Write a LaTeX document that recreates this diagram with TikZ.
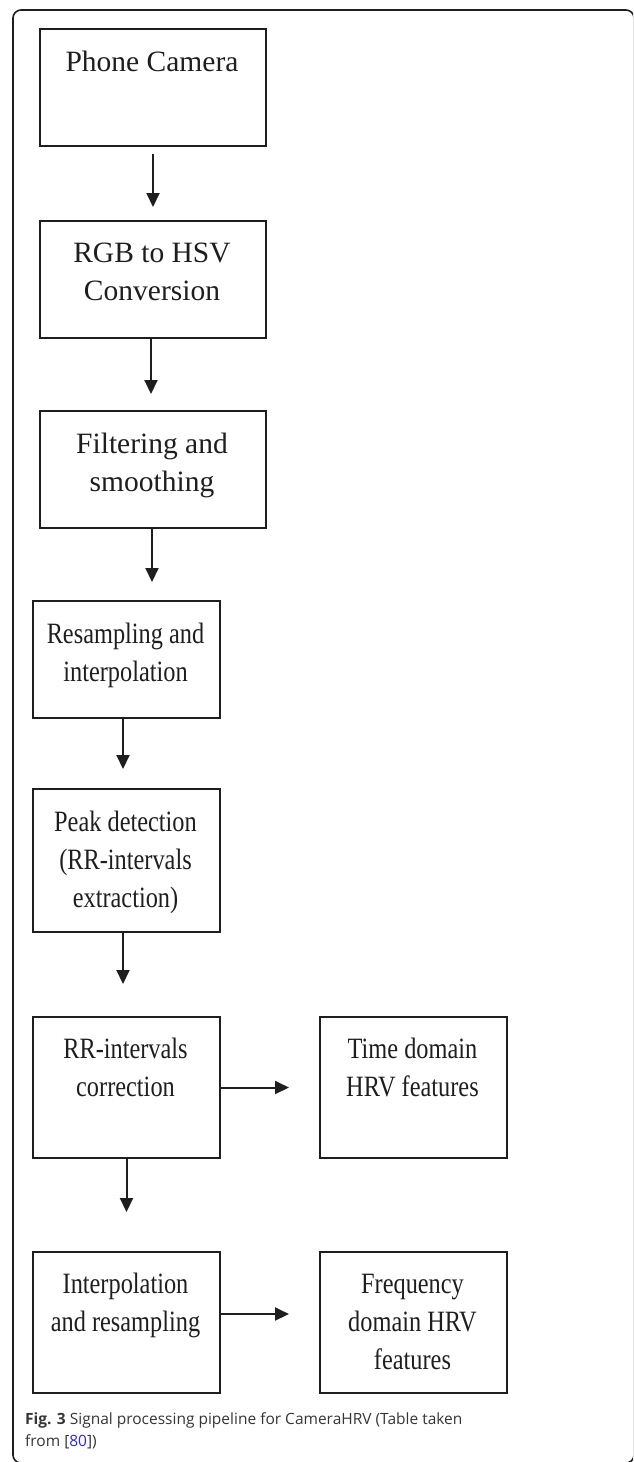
\documentclass[tikz,border=0pt]{standalone}
\usepackage{fontspec}
\setmainfont{Liberation Serif}
\newfontfamily\narrowserif[FakeStretch=0.825]{Liberation Serif}
\newfontfamily\capfont{Open Sans}
\usetikzlibrary{arrows.meta}
\definecolor{lnk}{RGB}{40,40,230}
\definecolor{ink}{RGB}{30,30,30}
\begin{document}
\begin{tikzpicture}[x=1pt,y=-1pt,
  box/.style={draw=ink, line width=2pt, rectangle, inner sep=0pt, anchor=north west},
  txt/.style={font=\fontsize{29.5}{38}\selectfont, align=center, inner sep=0pt, anchor=base, text=ink},
  ntxt/.style={txt, font=\narrowserif\fontsize{29.5}{38}\selectfont},
  arr/.style={line width=2pt, draw=ink, -{Triangle[length=14pt,width=13pt]}}]
\useasboundingbox (0,0) rectangle (633,1462);
\clip (0,0) rectangle (633,1462);
\draw[line width=1.6pt, ink, rounded corners=8pt] (13,10) rectangle (634,1463);
% boxes
\node[box, minimum width=226pt, minimum height=117pt] (b1) at (39,28) {};
\node[box, minimum width=226pt, minimum height=117pt] (b2) at (39,220) {};
\node[box, minimum width=226pt, minimum height=117pt] (b3) at (39,410) {};
\node[box, minimum width=187pt, minimum height=117pt] (b4) at (32,600) {};
\node[box, minimum width=187pt, minimum height=143pt] (b5) at (32,788) {};
\node[box, minimum width=187pt, minimum height=141pt] (b6) at (32,1016) {};
\node[box, minimum width=187pt, minimum height=141pt] (b7) at (319,1016) {};
\node[box, minimum width=187pt, minimum height=141pt] (b8) at (32,1251) {};
\node[box, minimum width=187pt, minimum height=141pt] (b9) at (319,1251) {};
% texts (base anchor = baseline of the last line)
\node[txt] (t1) at (152,71) {Phone Camera};
\node[txt] (t2) at (152,300) {RGB to HSV\\Conversion};
\node[txt] (t3) at (152,491) {Filtering and\\smoothing};
\node[ntxt] (t4) at (125.5,681) {Resampling and\\interpolation};
\node[ntxt] (t5) at (125.5,907) {Peak detection\\(RR-intervals\\extraction)};
\node[ntxt] (t6) at (125.5,1096) {RR-intervals\\correction};
\node[ntxt] (t7) at (412.5,1096) {Time domain\\HRV features};
\node[ntxt] (t8) at (125.5,1331) {Interpolation\\and resampling};
\node[ntxt] (t9) at (412.5,1369) {Frequency\\domain HRV\\features};
% arrows
\draw[arr] ([yshift=-7pt]b1.south) -- ++(0,53);
\draw[arr] ([xshift=-2pt]b2.south) -- ++(0,55);
\draw[arr] ([xshift=-1pt]b3.south) -- ++(0,53);
\draw[arr] ([xshift=-3.5pt]b4.south) -- ++(0,50);
\draw[arr] ([xshift=-3.5pt]b5.south) -- ++(0,51);
\draw[arr] (b6.east) -- ++(68,0);
\draw[arr] (b6.south) -- ++(0,53);
\draw[arr] ([yshift=8.5pt]b8.east) -- ++(68,0);
% caption
\node[anchor=base west, inner sep=0pt, align=left, text=ink!90,
      font=\capfont\fontsize{15.5}{22}\selectfont] (cap) at (25,1446)
  {\textbf{Fig. 3} Signal processing pipeline for CameraHRV (Table taken\\from [\textcolor{lnk}{80}])};
\end{tikzpicture}
\end{document}
